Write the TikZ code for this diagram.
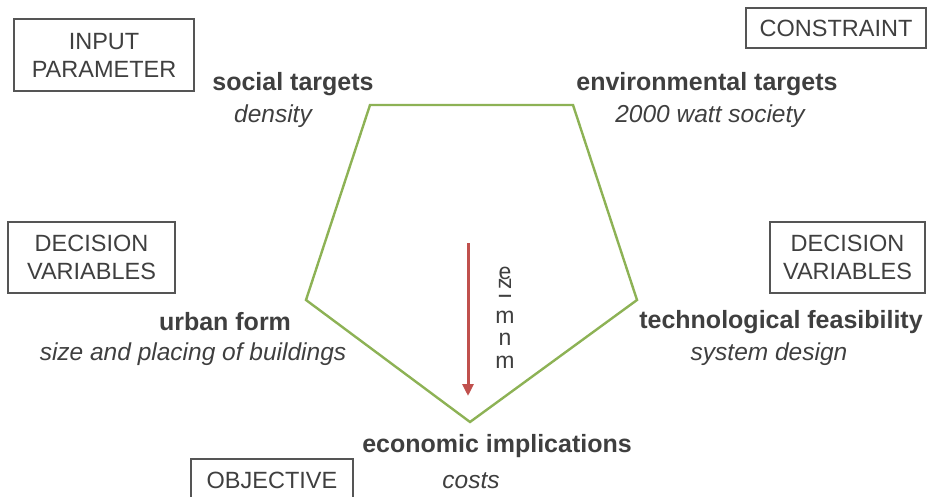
\documentclass[tikz,border=0pt]{standalone}
\usepackage{fontspec}
\setmainfont{Liberation Sans}
\usetikzlibrary{arrows.meta}
\definecolor{txt}{HTML}{3F3F3F}
\definecolor{boxline}{HTML}{555555}
\definecolor{pent}{HTML}{8DB255}
\definecolor{arr}{HTML}{C0504D}
\begin{document}
\begin{tikzpicture}[x=1pt,y=-1pt,
  lbl/.style={text=txt,inner sep=0pt,font=\fontsize{25}{28}\selectfont\bfseries},
  sub/.style={text=txt,inner sep=0pt,font=\fontsize{24.5}{28}\selectfont\itshape},
  catbox/.style={draw=boxline,line width=1.6pt,text=txt,align=center,inner sep=0pt,
     font=\fontsize{23.5}{28}\selectfont},
  gl/.style={text=txt,inner sep=0pt,font=\fontsize{23}{23}\selectfont}]
\useasboundingbox (0,0) rectangle (928,497);
% category boxes
\node[catbox,minimum width=180pt,minimum height=72pt] (inp) at (104,55) {INPUT\\PARAMETER};
\node[catbox,minimum width=180pt,minimum height=40pt] (con) at (836,28) {CONSTRAINT};
\node[catbox,minimum width=167pt,minimum height=71pt] (dvl) at (91.5,257.5) {DECISION\\VARIABLES};
\node[catbox,minimum width=155pt,minimum height=71pt] (dvr) at (847.5,257.5) {DECISION\\VARIABLES};
\node[catbox,minimum width=162pt,minimum height=42pt] (obj) at (272,480) {OBJECTIVE};
% pentagon
\coordinate (tl) at (370,105);
\coordinate (tr) at (573,105);
\coordinate (rr) at (637,300);
\coordinate (bb) at (470,422);
\coordinate (ll) at (306,300);
\draw[pent,line width=2.4pt,line join=miter] (tl) -- (tr) -- (rr) -- (bb) -- (ll) -- cycle;
% labels
\node[lbl] (soc) at (293,84) {social targets};
\node[sub] (socs) at (273,116) {density};
\node[lbl] (env) at (707,84) {environmental targets};
\node[sub] (envs) at (710,116) {2000 watt society};
\node[lbl] (urb) at (225,322) {urban form};
\node[sub] (urbs) at (193,354) {size and placing of buildings};
\node[lbl] (tec) at (781,322) {technological feasibility};
\node[sub] (tecs) at (769,354) {system design};
\node[lbl] (eco) at (497,446) {economic implications};
\node[sub] (ecos) at (471,481) {costs};
% arrow
\coordinate (a1) at (468,243);
\coordinate (a2) at (468,396);
\draw[arr,line width=3pt,-{Triangle[length=12pt,width=11pt]}] (a1) -- (a2);
% garbled vertical text
\node[gl] (g1) at (505,273) {e};
\node[gl,rotate=90] (g2) at (505,284) {z};
\node[gl,rotate=90] (g3) at (505,296) {ı};
\node[gl] (g4) at (505,317) {m};
\node[gl] (g5) at (505,339) {n};
\node[gl] (g6) at (505,362) {m};
\end{tikzpicture}
\end{document}
